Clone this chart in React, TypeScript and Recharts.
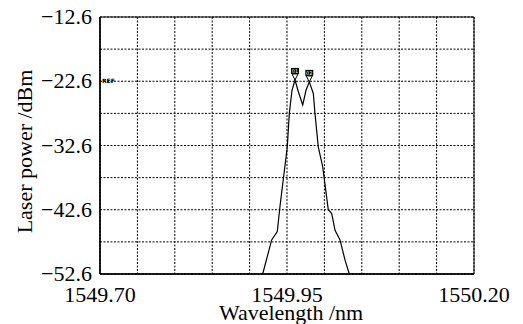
import React from 'react';
import { LineChart, Line, XAxis, YAxis, CartesianGrid, ReferenceArea, ReferenceDot } from 'recharts';

// spectrum
const wavelengths = [
  1549.9175, 1549.9295, 1549.937, 1549.9406, 1549.9504, 1549.9531, 1549.9567, 1549.9607,
  1549.9651, 1549.971, 1549.9754, 1549.9798, 1549.9852, 1549.9874, 1549.9918, 1549.9977,
  1550.0052, 1550.0098, 1550.0142, 1550.0209, 1550.0275, 1550.0333,
];
const powers = [
  -52.6, -47.3, -46.0, -42.1, -32.8, -27.6, -24.0, -22.4,
  -24.2, -26.3, -24.0, -22.7, -24.5, -27.6, -32.8, -35.9,
  -42.6, -43.2, -45.8, -47.3, -50.4, -52.6,
];

const xTicks = [1549.7, 1549.75, 1549.8, 1549.85, 1549.9, 1549.95, 1550.0, 1550.05, 1550.1, 1550.15, 1550.2];
const xLabels = ['1549.70', '1549.95', '1550.20'];
const yTicks = [-52.6, -47.6, -42.6, -37.6, -32.6, -27.6, -22.6, -17.6, -12.6];
const yLabels = ['-52.6', '-42.6', '-32.6', '-22.6', '-12.6'];

const markerX = [1549.9607, 1549.9798];
const markerY = [-22.4, -22.7];
const markerNames = ['01', '02'];

const data = wavelengths.map((w, i) => ({ w, p: powers[i] }));

const serif = '"Liberation Serif", "DejaVu Serif", serif';

const MarkerShape = (props: any) => {
  const { cx, cy, name } = props;
  return (
    <g>
      <path d={`M${cx - 3},${cy - 6} L${cx + 3},${cy - 6} L${cx},${cy}Z`} fill="none" stroke="#000" strokeWidth={1} />
      <rect x={cx - 4} y={cy - 12} width={8} height={6} fill="#000" />
      <text x={cx} y={cy - 7} textAnchor="middle" fontSize={5} fill="#fff" fontFamily="DejaVu Sans">{name}</text>
    </g>
  );
};

const XTick = (props: any) => {
  const { x, payload } = props;
  const s = Number(payload.value).toFixed(2);
  if (!xLabels.includes(s)) return null;
  return (
    <text x={x} y={302} textAnchor="middle" fontSize={22} fill="#000" fontFamily={serif}>{s}</text>
  );
};

const YTick = (props: any) => {
  const { y, payload } = props;
  const s = Number(payload.value).toFixed(1);
  if (!yLabels.includes(s)) return null;
  return (
    <text x={92} y={y + 7} textAnchor="end" fontSize={22} fill="#000" fontFamily={serif}>{s.replace('-', '\u2212')}</text>
  );
};

const XTitle = (props: any) => {
  const vb = props.viewBox;
  return (
    <text x={vb.x + vb.width / 2 + 4} y={vb.y + vb.height - 4} textAnchor="middle" fontSize={22} fill="#000" fontFamily={serif}>
      Wavelength /nm
    </text>
  );
};

const YTitle = (props: any) => {
  const vb = props.viewBox;
  const cx = vb.x + 24;
  const cy = vb.y + vb.height / 2 + 6;
  return (
    <text x={cx} y={cy} transform={`rotate(-90 ${cx} ${cy})`} textAnchor="middle" dominantBaseline="central" fontSize={22} fill="#000" fontFamily={serif}>
      Laser power /dBm
    </text>
  );
};

export default function App() {
  return (
    <div style={{ position: 'absolute', left: 0, top: 0, background: '#fff', fontFamily: serif }}>
      <LineChart width={523} height={324} data={data} margin={{ top: 17, right: 49, bottom: 0, left: 0 }}>
        <CartesianGrid stroke="#000" strokeDasharray="2 1.5" strokeWidth={1} />
        <ReferenceArea x1={1549.7} x2={1550.2} y1={-52.6} y2={-12.6} fill="none" stroke="#000" strokeWidth={1} />
        <XAxis
          dataKey="w"
          type="number"
          domain={[1549.7, 1550.2]}
          ticks={xTicks}
          interval={0}
          height={50}
          tickLine={false}
          axisLine={{ stroke: '#000', strokeWidth: 1.5 }}
          tick={<XTick />}
          label={<XTitle />}
        />
        <YAxis
          type="number"
          domain={[-52.6, -12.6]}
          ticks={yTicks}
          interval={0}
          width={100}
          tickLine={false}
          axisLine={{ stroke: '#000', strokeWidth: 1.5 }}
          tick={<YTick />}
          label={<YTitle />}
        />
        <Line
          dataKey="p"
          type="linear"
          stroke="#000"
          strokeWidth={1.2}
          dot={false}
          isAnimationActive={false}
        />
        {markerX.map((x, i) => (
          <ReferenceDot key={i} x={x} y={markerY[i]} r={3} shape={(p: any) => <MarkerShape {...p} name={markerNames[i]} />} />
        ))}
        <ReferenceDot
          x={1549.7}
          y={-22.6}
          r={1}
          shape={(p: any) => (
            <text x={p.cx + 2} y={p.cy + 2} fontSize={6} fontWeight="bold" fontFamily="DejaVu Sans" fill="#000">REF</text>
          )}
        />
      </LineChart>
    </div>
  );
}
